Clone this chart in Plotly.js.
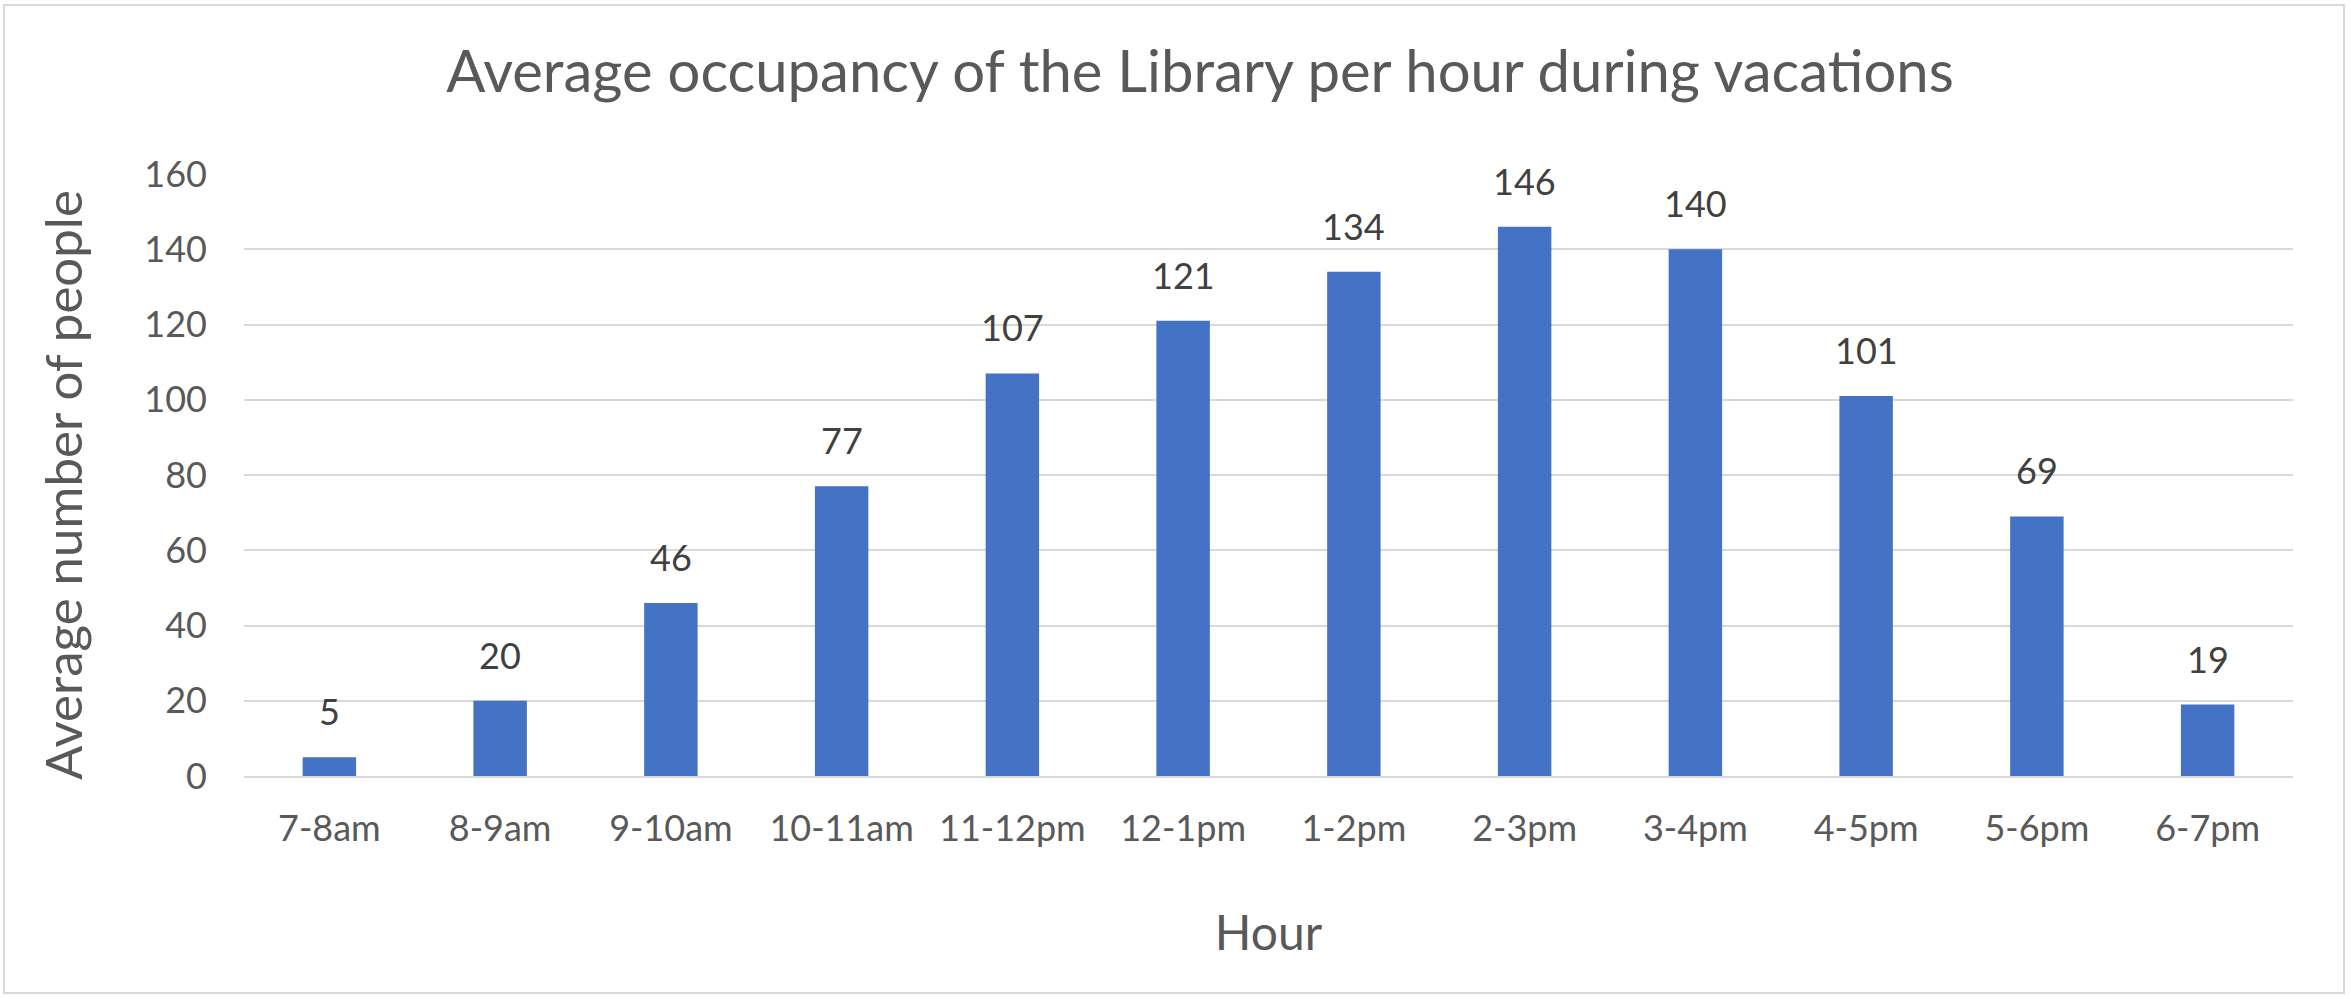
<!DOCTYPE html>
<html>
<head>
<meta charset="utf-8">
<script src="https://cdn.plot.ly/plotly-3.0.1.min.js"></script>
<style>
  html, body { margin: 0; padding: 0; background: #ffffff; }
  #chart { width: 2351px; height: 999px; }
</style>
</head>
<body>
<div id="chart"></div>
<script>
const hours = ["7-8am", "8-9am", "9-10am", "10-11am", "11-12pm", "12-1pm", "1-2pm", "2-3pm", "3-4pm", "4-5pm", "5-6pm", "6-7pm"];
const occupancy = [5, 20, 46, 77, 107, 121, 134, 146, 140, 101, 69, 19];
const yTicks = [0, 20, 40, 60, 80, 100, 120, 140, 160];

const W = 2351, H = 999;
const M = { l: 244, r: 58, t: 174, b: 223 };
const FONT = "Lato, 'Open Sans', sans-serif";
const GREY = "#595959";

function px2paperX(px) { return (px - M.l) / (W - M.l - M.r); }
function px2paperY(py) { return (H - M.b - py) / (H - M.t - M.b); }

const trace = {
  type: "bar",
  x: hours,
  y: occupancy,
  marker: { color: "#4472C4", line: { width: 0 } },
  hoverinfo: "x+y"
};

const annotations = hours.map((h, i) => ({
  x: h,
  y: occupancy[i],
  xref: "x",
  yref: "y",
  text: String(occupancy[i]),
  showarrow: false,
  yanchor: "bottom",
  yshift: 22,
  font: { family: FONT, size: 36, color: "#404040" }
}));

annotations.push({
  text: "Average number of people",
  textangle: -90,
  xref: "paper",
  yref: "paper",
  x: px2paperX(62),
  y: px2paperY(485),
  xanchor: "center",
  yanchor: "middle",
  showarrow: false,
  font: { family: FONT, size: 51, color: GREY }
});

const layout = {
  width: W,
  height: H,
  margin: M,
  paper_bgcolor: "#ffffff",
  plot_bgcolor: "#ffffff",
  showlegend: false,
  bargap: 0.687,
  font: { family: FONT, color: GREY },
  title: {
    text: "Average occupancy of the Library per hour during vacations",
    font: { family: FONT, size: 58, color: GREY },
    x: 1200 / W,
    xanchor: "center",
    xref: "container",
    y: 1 - 72 / H,
    yref: "container",
    yanchor: "middle"
  },
  xaxis: {
    type: "category",
    tickfont: { family: FONT, size: 36, color: GREY },
    showgrid: false,
    showline: true,
    linecolor: "#d9d9d9",
    linewidth: 2,
    ticks: "",
    ticklabelstandoff: 20,
    title: {
      text: "Hour",
      font: { family: FONT, size: 48, color: GREY },
      standoff: 68
    }
  },
  yaxis: {
    range: [0, 160],
    tickvals: yTicks,
    ticktext: yTicks.map(String),
    tickfont: { family: FONT, size: 36, color: GREY },
    showgrid: true,
    gridcolor: "#d9d9d9",
    gridwidth: 2,
    zeroline: false,
    showline: false,
    ticks: "",
    ticklabelstandoff: 36
  },
  annotations: annotations,
  shapes: [{
    type: "rect",
    xref: "paper",
    yref: "paper",
    x0: px2paperX(4),
    x1: px2paperX(2344),
    y0: px2paperY(993),
    y1: px2paperY(5),
    line: { color: "#d9d9d9", width: 2 },
    fillcolor: "rgba(0,0,0,0)",
    layer: "below"
  }]
};

Plotly.newPlot("chart", [trace], layout, { displayModeBar: false, staticPlot: true });
</script>
</body>
</html>
